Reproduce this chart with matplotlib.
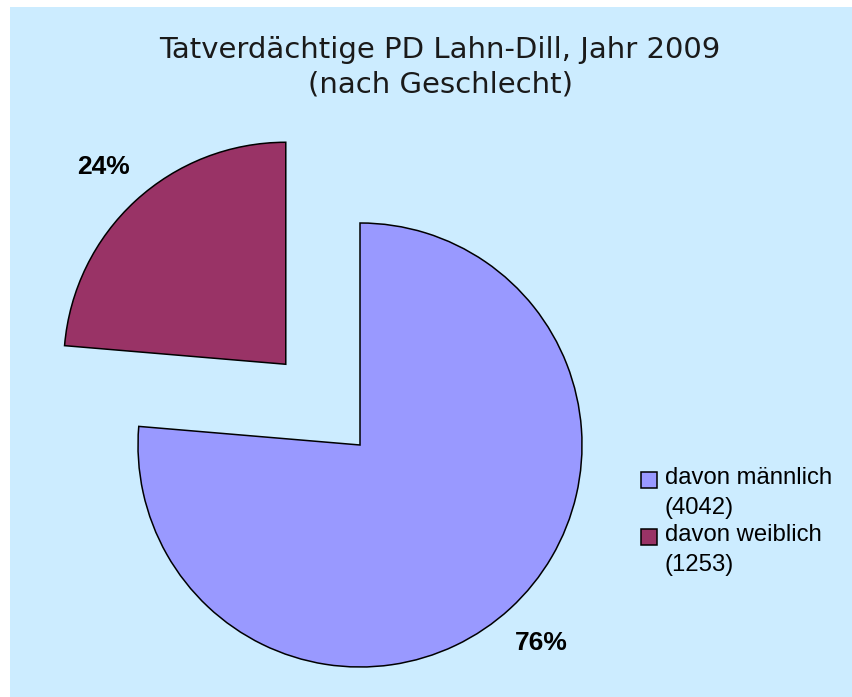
import matplotlib
matplotlib.use("Agg")
from matplotlib import pyplot as plt
from matplotlib.patches import Rectangle, Wedge
from matplotlib.legend_handler import HandlerPatch

# data
labels = ["davon männlich\n(4042)", "davon weiblich\n(1253)"]
counts = [4042, 1253]
colours = ["#9999FF", "#993366"]
title = "Tatverdächtige PD Lahn-Dill, Jahr 2009\n(nach Geschlecht)"

W, H = 852, 697
fig = plt.figure(figsize=(W / 100, H / 100), dpi=100, facecolor="white")

# light blue chart area, small white margin top/left
fig.patches.append(Rectangle((10 / W, 0), 1 - 10 / W, 1 - 7 / H,
                             transform=fig.transFigure, facecolor="#CCECFF",
                             edgecolor="none", zorder=-1))

# axes in pixel units over the whole figure
ax = fig.add_axes([0, 0, 1, 1])
ax.patch.set_visible(False)

R = 222
wedges, texts, autotexts = ax.pie(
    counts, colors=colours, startangle=90, counterclock=False,
    explode=[0, 0.494 * R], center=(360, H - 445), radius=R,
    autopct="%.0f%%", pctdistance=1.21,
    wedgeprops=dict(edgecolor="black", linewidth=1.1),
    textprops=dict(fontsize=19, fontweight="bold", family="Liberation Sans"))

ax.set_xlim(0, W)
ax.set_ylim(0, H)
ax.set_aspect("equal")
ax.axis("off")

fig.text(440 / W, 1 - 67 / H, title, ha="center", va="center",
         fontsize=21, family="DejaVu Sans", linespacing=1.3, color="#1a1a1a")


# legend square sits next to the first line of a two-line label
def top_square(legend, orig_handle, xdescent, ydescent, width, height, fontsize):
    return Rectangle((-xdescent, -ydescent + 9), width, height)


leg = ax.legend(wedges, labels, loc="upper left", frameon=False,
                bbox_to_anchor=(641 / W, 1 - 467 / H), bbox_transform=ax.transAxes,
                borderpad=0, borderaxespad=0, handlelength=0.65, handleheight=0.65,
                handletextpad=0.34, labelspacing=0.22,
                handler_map={Wedge: HandlerPatch(patch_func=top_square)},
                prop=dict(family="Liberation Sans", size=17.2))
for t in leg.get_texts():
    t.set_linespacing(1.45)

plt.savefig("out.png", dpi=100)
